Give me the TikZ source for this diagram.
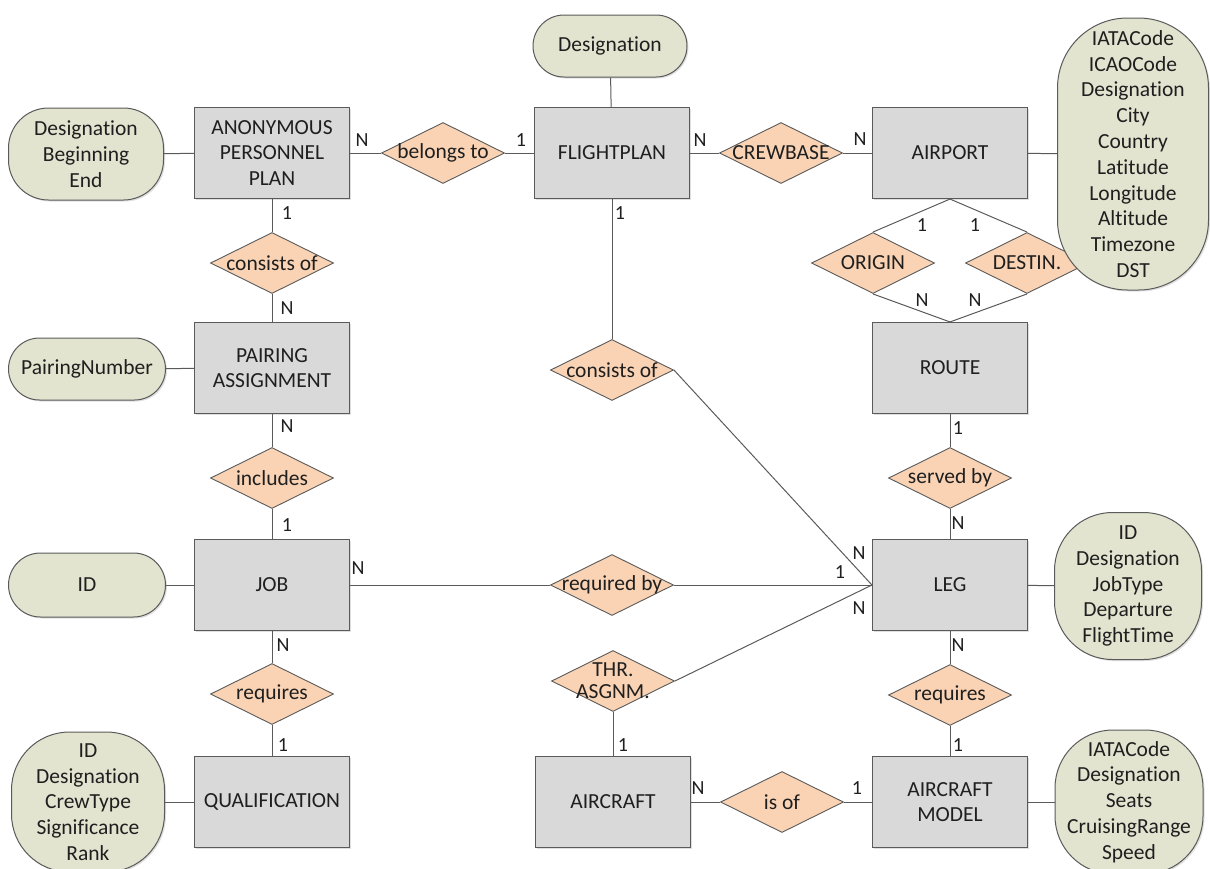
\documentclass[tikz,border=0pt]{standalone}
\usepackage{fontspec}
\setmainfont[Ligatures={NoCommon}]{Carlito}
\usetikzlibrary{shapes.geometric,shadows}
\definecolor{entfill}{HTML}{D9D9D9}
\definecolor{relfill}{HTML}{FAD3B4}
\definecolor{attfill}{HTML}{E2E4D0}
\definecolor{edgecol}{HTML}{5A5A5A}
\definecolor{txtcol}{HTML}{1F1F1F}
\newcommand\zw[1]{\makebox[0pt][c]{#1}}
\begin{document}
\begin{tikzpicture}[x=1pt,y=-1pt,
  every node/.style={font=\fontsize{21.5}{25.8}\selectfont, text=txtcol},
  softshadow/.style={drop shadow={shadow xshift=1.5pt, shadow yshift=-1.5pt, opacity=0.25}},
  entity/.style={rectangle, draw=edgecol, line width=1.1pt, fill=entfill,
    minimum width=155pt, minimum height=91pt, align=center, inner sep=0pt, softshadow},
  rel/.style={diamond, draw=edgecol, line width=0.9pt, fill=relfill,
    minimum width=123pt, minimum height=61pt, inner sep=0pt, align=center},
  attr/.style={rectangle, draw=edgecol, line width=1pt, fill=attfill,
    align=center, inner sep=0pt, softshadow},
  card/.style={inner sep=0pt, font=\fontsize{20}{22}\selectfont},
  link/.style={draw=edgecol, line width=1pt}]

\useasboundingbox (0,0) rectangle (1210,868);

% entities
\node[entity] (app)   at (272,153) {ANONYMOUS\\PERSONNEL\\PLAN};
\node[entity] (fp)    at (612,153) {FLIGHTPLAN};
\node[entity] (ap)    at (950,153) {AIRPORT};
\node[entity] (pa)    at (272,368) {PAIRING\\ASSIGNMENT};
\node[entity] (route) at (950,368) {ROUTE};
\node[entity] (job)   at (272,585) {JOB};
\node[entity] (leg)   at (950,585) {LEG};
\node[entity] (qual)  at (272,802) {QUALIFICATION};
\node[entity] (acft)  at (613,802) {AIRCRAFT};
\node[entity] (am)    at (950,802) {AIRCRAFT\\MODEL};

% relationships
\node[rel] (belongs)  at (443,153) {\zw{belongs to}};
\node[rel] (crewbase) at (781,153) {\zw{CREWBASE}};
\node[rel] (cons1)    at (272,263) {\zw{consists of}};
\node[rel] (cons2)    at (612,370) {\zw{consists of}};
\node[rel] (includes) at (272,478) {\zw{includes}};
\node[rel] (reqby)    at (612,585) {\zw{required by}};
\node[rel] (req1)     at (272,694) {\zw{requires}};
\node[rel, font=\fontsize{21.5}{22}\selectfont] (thr) at (613,681) {\zw{THR.}\\\zw{ASGNM.}};
\node[rel] (origin)   at (873,263) {\zw{ORIGIN}};
\node[rel] (destin)   at (1027,263) {\zw{DESTIN.}};
\node[rel] (served)   at (950,478) {\zw{served by}};
\node[rel] (req2)     at (950,695) {\zw{requires}};
\node[rel] (isof)     at (782,802) {\zw{is of}};

% attributes
\node[attr, minimum width=155pt, minimum height=92pt, rounded corners=40pt] (aapp) at (86,154) {Designation\\Beginning\\End};
\node[attr, minimum width=154pt, minimum height=62pt, rounded corners=31pt] (afp) at (610,46) {Designation};
\node[attr, minimum width=151pt, minimum height=272pt, rounded corners=70pt] (aap) at (1133,154)
  {IATACode\\ICAOCode\\Designation\\City\\Country\\Latitude\\Longitude\\Altitude\\Timezone\\DST};
\node[attr, minimum width=157pt, minimum height=62pt, rounded corners=31pt] (apa) at (87,369) {PairingNumber};
\node[attr, minimum width=157pt, minimum height=64pt, rounded corners=32pt] (ajob) at (87,585) {ID};
\node[attr, minimum width=147pt, minimum height=147pt, rounded corners=58pt] (aleg) at (1128,586)
  {ID\\Designation\\JobType\\Departure\\FlightTime};
\node[attr, minimum width=153pt, minimum height=140pt, rounded corners=58pt] (aqual) at (88,802)
  {ID\\Designation\\CrewType\\Significance\\Rank};
\node[attr, minimum width=148pt, minimum height=144pt, rounded corners=58pt] (aam) at (1129,802)
  {IATACode\\Designation\\Seats\\CruisingRange\\Speed};

% connectors
\draw[link] (aapp) -- (app);
\draw[link] (app) -- (belongs);
\draw[link] (belongs) -- (fp);
\draw[link] (fp) -- (crewbase);
\draw[link] (crewbase) -- (ap);
\draw[link] (ap) -- (aap);
\draw[link] (afp) -- (fp);
\draw[link] (app) -- (cons1);
\draw[link] (cons1) -- (pa);
\draw[link] (apa) -- (pa);
\draw[link] (pa) -- (includes);
\draw[link] (includes) -- (job);
\draw[link] (ajob) -- (job);
\draw[link] (job) -- (reqby);
\draw[link] (reqby) -- (leg);
\draw[link] (job) -- (req1);
\draw[link] (req1) -- (qual);
\draw[link] (aqual) -- (qual);
\draw[link] (fp) -- (cons2);
\draw[link] (cons2.east) -- (leg.west);
\draw[link] (thr.east) -- (leg.west);
\draw[link] (thr) -- (acft);
\draw[link] (acft) -- (isof);
\draw[link] (isof) -- (am);
\draw[link] (am) -- (aam);
\draw[link] (leg) -- (req2);
\draw[link] (req2) -- (am);
\draw[link] (leg) -- (aleg);
\draw[link] (route) -- (served);
\draw[link] (served) -- (leg);
\draw[link] (ap.south) -- (origin.north);
\draw[link] (ap.south) -- (destin.north);
\draw[link] (origin.south) -- (route.north);
\draw[link] (destin.south) -- (route.north);

% cardinalities
\node[card] (k1)  at (362,140) {N};
\node[card] (k2)  at (521,140) {1};
\node[card] (k3)  at (700,140) {N};
\node[card] (k4)  at (860,139) {N};
\node[card] (k5)  at (287,213) {1};
\node[card] (k6)  at (287,308) {N};
\node[card] (k7)  at (287,426) {N};
\node[card] (k8)  at (287,525) {1};
\node[card] (k9)  at (283,645) {N};
\node[card] (k10) at (283,745) {1};
\node[card] (k11) at (620,213) {1};
\node[card] (k12) at (859,553) {N};
\node[card] (k13) at (840,572) {1};
\node[card] (k14) at (358,568) {N};
\node[card] (k15) at (859,608) {N};
\node[card] (k16) at (623,745) {1};
\node[card] (k17) at (698,788) {N};
\node[card] (k18) at (857,788) {1};
\node[card] (k19) at (958,645) {N};
\node[card] (k20) at (958,745) {1};
\node[card] (k21) at (958,428) {1};
\node[card] (k22) at (958,523) {N};
\node[card] (k23) at (922,225) {1};
\node[card] (k24) at (975,225) {1};
\node[card] (k25) at (922,300) {N};
\node[card] (k26) at (975,300) {N};
\end{tikzpicture}
\end{document}
